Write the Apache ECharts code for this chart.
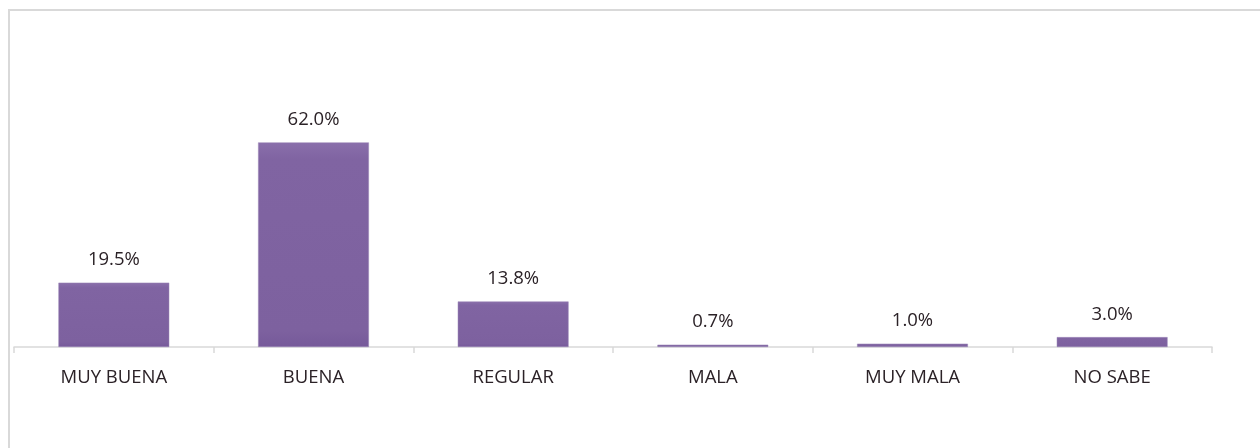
<!DOCTYPE html>
<html>
<head>
<meta charset="utf-8">
<script src="https://cdn.jsdelivr.net/npm/echarts@6/dist/echarts.min.js"></script>
<style>
html, body { margin: 0; padding: 0; background: #fff; }
.frame {
    position: absolute;
    left: 8px; top: 9px;
    width: 1300px; height: 500px;
    border-left: 2px solid #d9d9d9;
    border-top: 2px solid #d9d9d9;
}
#chart { position: absolute; left: 0; top: 0; width: 1260px; height: 448px; }
</style>
</head>
<body>
<div class="frame"></div>
<div id="chart"></div>
<script>
// categorías y porcentajes
const categories = ['MUY BUENA', 'BUENA', 'REGULAR', 'MALA', 'MUY MALA', 'NO SABE'];
const values = [19.5, 62.0, 13.8, 0.7, 1.0, 3.0];

const chart = echarts.init(document.getElementById('chart'));
const option = {
    animation: false,
    grid: { left: 14, right: 48, top: 116, bottom: 101, containLabel: false },
    xAxis: {
        type: 'category',
        data: categories,
        axisLine: { lineStyle: { color: '#d9d9d9', width: 1.5 } },
        axisTick: { show: true, length: 6, alignWithLabel: false, lineStyle: { color: '#d9d9d9', width: 1.5 } },
        axisLabel: {
            color: '#2b2227',
            fontSize: 18.5,
            fontFamily: 'Open Sans',
            margin: 21
        }
    },
    yAxis: {
        type: 'value',
        min: 0,
        max: 70,
        show: false,
        splitLine: { show: false }
    },
    series: [{
        type: 'bar',
        data: values,
        barWidth: '55.5%',
        itemStyle: {
            color: {
                type: 'linear', x: 0, y: 0, x2: 0, y2: 1,
                colorStops: [
                    { offset: 0, color: '#8a6fab' },
                    { offset: 0.08, color: '#8064a2' },
                    { offset: 0.92, color: '#7d619f' },
                    { offset: 1, color: '#76599a' }
                ]
            },
            borderColor: '#9a86b6',
            borderWidth: 0.5
        },
        label: {
            show: true,
            position: 'top',
            distance: 13,
            color: '#2b2227',
            fontSize: 18.5,
            fontFamily: 'Open Sans',
            formatter: p => p.value.toFixed(1) + '%'
        }
    }]
};
chart.setOption(option);
window.addEventListener('resize', () => chart.resize());
</script>
</body>
</html>
